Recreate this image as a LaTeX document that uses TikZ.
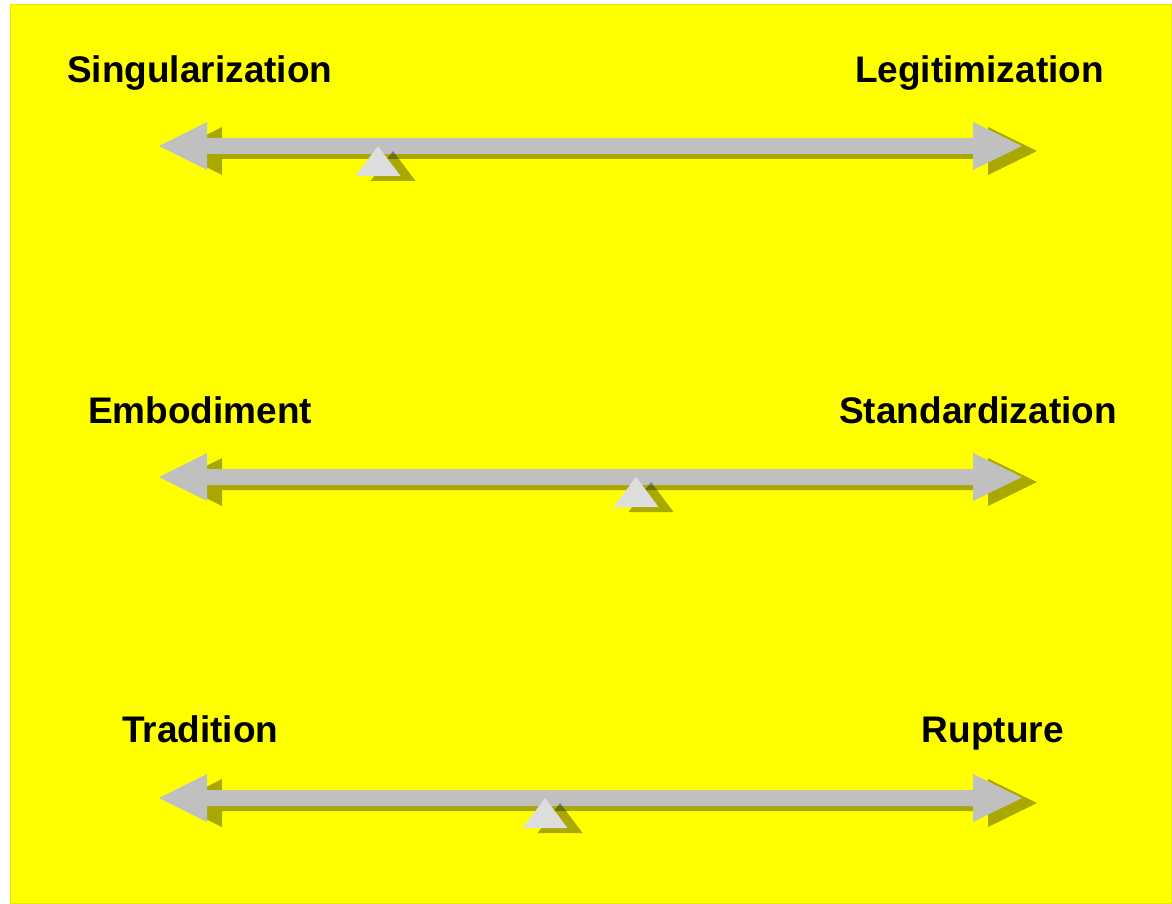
\documentclass[tikz,border=0pt]{standalone}
\usepackage{fontspec}
\setmainfont{Liberation Sans}
\begin{document}
\begin{tikzpicture}[x=1pt,y=-1pt,
  lbl/.style={font=\fontsize{37}{41}\selectfont\bfseries, inner sep=0pt, text=black},
  shaftfill/.style={fill={rgb,255:red,192;green,192;blue,192}, draw=none},
  trifill/.style={fill={rgb,255:red,221;green,221;blue,221}, draw=none},
  shadowfill/.style={fill=black, fill opacity=0.34, draw=none}]
\useasboundingbox (0,0) rectangle (1172,904);
\fill[white] (0,0) rectangle (1172,904);
\draw[fill={rgb,255:red,255;green,255;blue,0}, draw={rgb,255:red,230;green,235;blue,0}, line width=1.2pt] (10.5,4.5) rectangle (1171.5,903.5);
% labels
\node[lbl, anchor=base west] (sing) at (67,83) {Singularization};
\node[lbl, anchor=base east] (legit) at (1104,83) {Legitimization};
\node[lbl, anchor=base west] (emb) at (88,423) {Embodiment};
\node[lbl, anchor=base east] (stand) at (1117,423) {Standardization};
\node[lbl, anchor=base west] (trad) at (122,742) {Tradition};
\node[lbl, anchor=base east] (rupt) at (1064,742) {Rupture};
% scales
\foreach \c/\t in {146/378, 477/636, 798/545}{
  \begin{scope}[shift={(15,5)}]
    \path[shadowfill] (159,\c) -- (207,\c-24) -- (207,\c-8) -- (973,\c-8) -- (973,\c-24) -- (1022,\c) -- (973,\c+24) -- (973,\c+8) -- (207,\c+8) -- (207,\c+24) -- cycle;
  \end{scope}
  \path[shaftfill] (159,\c) -- (207,\c-24) -- (207,\c-8) -- (973,\c-8) -- (973,\c-24) -- (1022,\c) -- (973,\c+24) -- (973,\c+8) -- (207,\c+8) -- (207,\c+24) -- cycle;
  \begin{scope}[shift={(15,5)}]
    \path[shadowfill] (\t,\c) -- (\t+22.5,\c+30) -- (\t-22.5,\c+30) -- cycle;
  \end{scope}
  \path[trifill] (\t,\c) -- (\t+22.5,\c+30) -- (\t-22.5,\c+30) -- cycle;
}
\end{tikzpicture}
\end{document}
